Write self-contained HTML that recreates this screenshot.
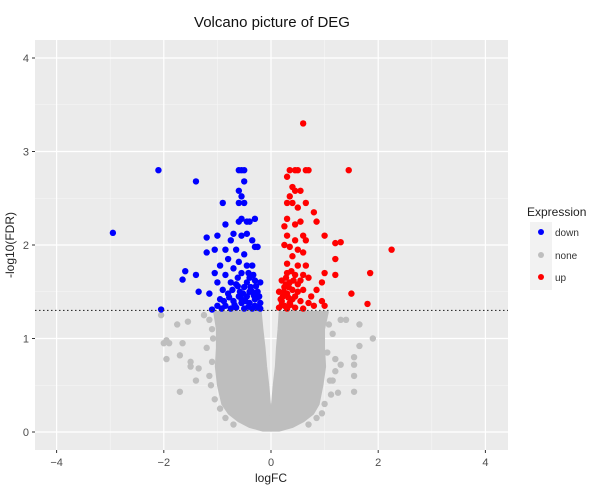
<!DOCTYPE html>
<html><head><meta charset="utf-8"><style>
body{margin:0;background:#fff;font-family:"Liberation Sans",sans-serif}
svg text{font-family:"Liberation Sans",sans-serif}
</style></head><body>
<svg width="600" height="488" xmlns="http://www.w3.org/2000/svg">
<rect x="35" y="40" width="473" height="410" fill="#ebebeb"/>
<g id="grid"></g>
<g id="blob"></g>
<g id="pts"></g>
<line id="thr" x1="35" x2="508" stroke="#333" stroke-width="1.2" stroke-dasharray="1.5,2.5"/>
<g id="axes"></g>
<text x="272" y="27" font-size="15" text-anchor="middle" fill="#111">Volcano picture of DEG</text>
<text x="271" y="482" font-size="12" text-anchor="middle" fill="#222">logFC</text>
<text transform="translate(14,245) rotate(-90)" font-size="12" text-anchor="middle" fill="#222">-log10(FDR)</text>
<g>
<text x="527" y="216" font-size="12" fill="#222">Expression</text>
<rect x="530" y="222" width="22" height="68" fill="#f2f2f2"/>
<circle cx="541" cy="232" r="3" fill="#0000ff"/>
<circle cx="541" cy="255" r="3" fill="#bebebe"/>
<circle cx="541" cy="277" r="3" fill="#ff0000"/>
<text x="555" y="236" font-size="10" fill="#333">down</text>
<text x="555" y="259" font-size="10" fill="#333">none</text>
<text x="555" y="281" font-size="10" fill="#333">up</text>
</g>
</svg>
<script>
const xTicks=[-4,-2,0,2,4];
const yTicks=[0,1,2,3,4];
const threshold=1.3;
const envY=[0.02,0.06,0.12,0.2,0.3,0.5,0.7,0.9,1.1,1.28];
const envLeftOuter=[-0.15,-0.4,-0.6,-0.78,-0.9,-0.98,-1.02,-1.0,-1.0,-1.05];
const envLeftInner=[0,0,0,-0.01,-0.03,-0.06,-0.1,-0.13,-0.17,-0.2];
const envRightInner=[0,0,0,0.01,0.03,0.06,0.1,0.12,0.15,0.17];
const envRightOuter=[0.15,0.4,0.6,0.78,0.88,0.95,1.0,0.98,0.98,1.05];
const noneX=[-2.05,-1.75,-1.55,-2.0,-1.95,-1.9,-1.65,-1.95,-1.7,-1.5,-1.5,-1.35,-1.4,-1.7,-1.2,-1.1,-1.25,1.3,1.4,1.65,1.9,1.65,1.55,1.55,1.55,1.55,1.25,1.3,1.2,1.15,1.2,-1.15,1.15,-1.1,-1.12,-1.08,-1.15,-1.05,-0.95,1.05,1.1,1.08,1.12,1.0,0.95,-0.85,0.85,-0.7,0.7];
const noneY=[1.25,1.15,1.18,0.95,0.98,0.95,0.95,0.78,0.82,0.75,0.7,0.68,0.55,0.43,0.9,1.1,1.25,1.2,1.2,1.15,1.0,0.92,0.8,0.72,0.6,0.43,0.42,0.72,0.65,1.05,0.78,0.6,0.55,0.75,0.5,1.0,1.2,0.35,0.25,0.85,0.55,1.15,0.4,0.3,0.2,0.15,0.15,0.08,0.08];
const downX=[-2.95,-2.1,-1.4,-2.05,-1.6,-1.65,-1.4,-1.35,-1.15,-1.2,-1.2,-0.9,-0.85,-1.0,-1.05,-0.95,-1.05,-1.0,-0.6,-0.55,-0.5,-0.5,-0.6,-0.55,-0.6,-0.5,-0.55,-0.4,-0.3,-0.45,-0.6,-0.7,-0.55,-0.45,-0.35,-0.3,-0.25,-0.75,-0.85,-0.65,-0.5,-0.8,-0.6,-0.45,-0.35,-0.7,-0.55,-0.85,-0.75,-0.4,-0.3,-0.2,-0.65,-0.5,-0.9,-0.8,-0.6,-0.45,-0.35,-0.25,-0.7,-0.55,-0.4,-0.3,-0.2,-1.0,-0.85,-0.65,-0.5,-0.35,-0.25,-1.1,-0.75,-0.95,-0.45,-0.38,-0.28,-0.62,-0.42,-0.33,-0.52,-0.72,-0.58,-0.22,-0.48,-0.3,-0.68,-0.88,-0.4,-0.2,-0.25,-0.32,-0.42,-0.55,-0.62,-0.78,-0.92];
const downY=[2.13,2.8,2.68,1.31,1.72,1.63,1.68,1.5,1.48,1.92,2.08,2.45,2.22,2.1,1.95,1.78,1.7,1.6,2.8,2.8,2.8,2.68,2.58,2.52,2.45,2.45,2.28,2.25,2.28,2.25,2.25,2.12,2.1,2.12,2.05,1.98,1.98,2.05,1.95,1.95,1.9,1.85,1.82,1.78,1.78,1.75,1.7,1.68,1.6,1.65,1.62,1.6,1.58,1.55,1.52,1.48,1.45,1.45,1.5,1.5,1.4,1.38,1.38,1.42,1.38,1.35,1.35,1.33,1.32,1.32,1.33,1.31,1.32,1.42,1.6,1.55,1.56,1.65,1.7,1.68,1.48,1.52,1.5,1.45,1.4,1.35,1.36,1.4,1.5,1.32,1.44,1.46,1.34,1.42,1.56,1.44,1.32];
const upX=[0.6,1.45,2.25,1.85,1.8,1.5,1.2,1.3,1.2,1.2,1.0,1.0,0.95,0.95,1.0,0.85,0.8,0.85,0.35,0.45,0.5,0.65,0.7,0.3,0.4,0.45,0.55,0.35,0.3,0.4,0.65,0.5,0.3,0.25,0.45,0.55,0.3,0.45,0.6,0.65,0.25,0.35,0.5,0.6,0.4,0.3,0.5,0.65,0.3,0.45,0.6,0.7,0.2,0.35,0.5,0.25,0.4,0.6,0.75,0.15,0.3,0.45,0.2,0.35,0.55,0.7,0.8,0.15,0.3,0.45,0.6,0.25,0.4,0.5,0.22,0.33,0.28,0.38,0.42,0.55,0.18,0.24,0.32,0.2,0.28,0.36];
const upY=[3.3,2.8,1.95,1.7,1.37,1.48,2.02,2.03,1.85,1.68,2.1,1.7,1.6,1.4,1.35,1.52,2.35,2.25,2.8,2.8,2.8,2.8,2.8,2.73,2.62,2.58,2.58,2.52,2.45,2.45,2.45,2.4,2.28,2.2,2.22,2.25,2.1,2.05,2.1,2.05,2.0,1.98,1.95,1.92,1.88,1.8,1.78,1.78,1.7,1.68,1.68,1.65,1.62,1.6,1.58,1.55,1.52,1.52,1.45,1.5,1.48,1.45,1.4,1.38,1.4,1.38,1.35,1.33,1.32,1.33,1.32,1.35,1.42,1.5,1.45,1.55,1.65,1.72,1.62,1.62,1.42,1.5,1.44,1.36,1.58,1.36];
const NS='http://www.w3.org/2000/svg';
const sx=v=>271+v*53.6, sy=v=>432-v*93.5;
function mk(t,a,p){const e=document.createElementNS(NS,t);for(const k in a)e.setAttribute(k,a[k]);p.appendChild(e);return e;}
const grid=document.getElementById('grid'),axes=document.getElementById('axes');
[-3,-1,1,3].forEach(v=>{const l=mk('line',{x1:sx(v),x2:sx(v),y1:40,y2:450,stroke:'#f7f7f7','stroke-width':0.6},grid);});
[0.5,1.5,2.5,3.5].forEach(v=>{const l=mk('line',{y1:sy(v),y2:sy(v),x1:35,x2:508,stroke:'#f7f7f7','stroke-width':0.6},grid);});
xTicks.forEach(v=>{const l=mk('line',{x1:sx(v),x2:sx(v),y1:40,y2:450,stroke:'#fff','stroke-width':1.2},grid);
const k=mk('line',{x1:sx(v),x2:sx(v),y1:450,y2:453,stroke:'#333'},axes);
const t=mk('text',{x:sx(v),y:466,'font-size':11,'text-anchor':'middle',fill:'#4d4d4d'},axes);t.textContent=(v<0?'\u2212':'')+Math.abs(v);});
yTicks.forEach(v=>{const l=mk('line',{y1:sy(v),y2:sy(v),x1:35,x2:508,stroke:'#fff','stroke-width':1.2},grid);
const k=mk('line',{y1:sy(v),y2:sy(v),x1:32,x2:35,stroke:'#333'},axes);
const t=mk('text',{x:29,y:sy(v)+4,'font-size':11,'text-anchor':'end',fill:'#4d4d4d'},axes);t.textContent=v;});
const thr=document.getElementById('thr');thr.setAttribute('y1',sy(threshold));thr.setAttribute('y2',sy(threshold));
const blob=document.getElementById('blob');
function poly(xs1,xs2){let p=[];for(let i=0;i<envY.length;i++)p.push(sx(xs1[i])+','+sy(envY[i]));for(let i=envY.length-1;i>=0;i--)p.push(sx(xs2[i])+','+sy(envY[i]));return p.join(' ');}
const pl=mk('polygon',{points:poly(envLeftOuter,envLeftInner),fill:'#bebebe',stroke:'#bebebe','stroke-width':3,'stroke-linejoin':'round'},blob);

const pr=mk('polygon',{points:poly(envRightInner,envRightOuter),fill:'#bebebe',stroke:'#bebebe','stroke-width':3,'stroke-linejoin':'round'},blob);

const pts=document.getElementById('pts');
function draw(xs,ys,col,name){xs.forEach((x,i)=>{const c=mk('circle',{cx:sx(x),cy:sy(ys[i]),r:3.2,fill:col},pts);});}
draw(noneX,noneY,'#bebebe','point-none');
draw(downX,downY,'#0000ff','point-down');
draw(upX,upY,'#ff0000','point-up');
</script>
</body></html>
